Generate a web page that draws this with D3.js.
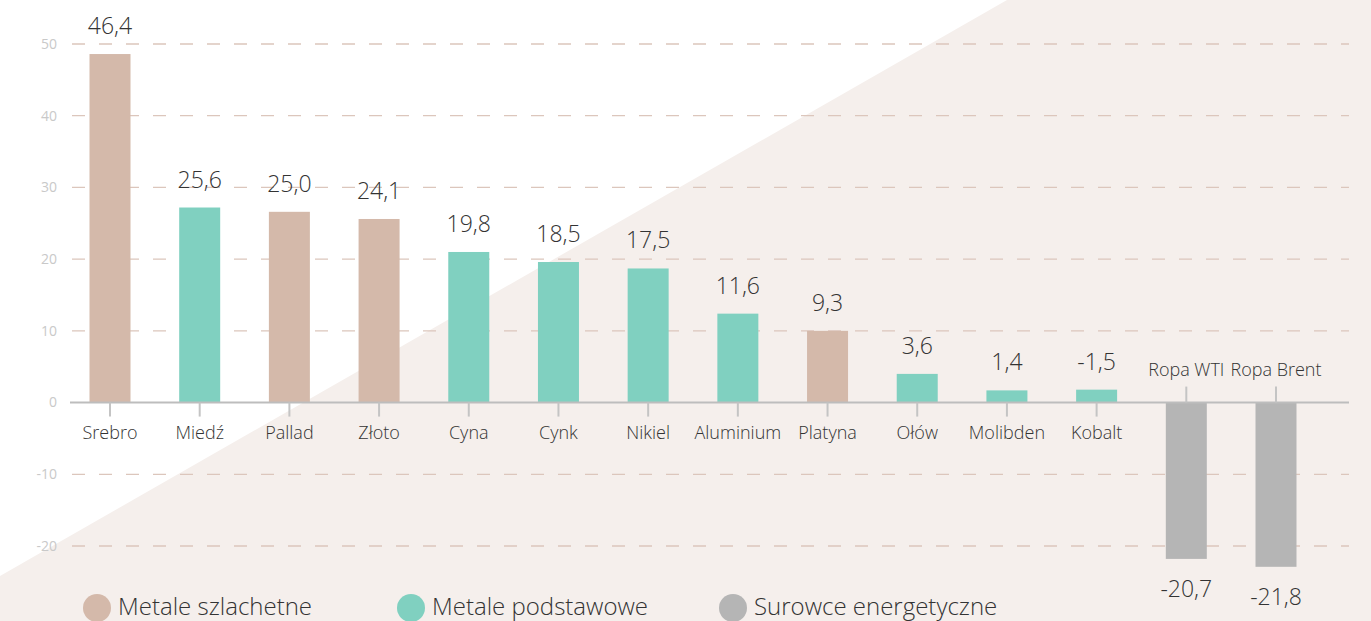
<!DOCTYPE html>
<html>
<head>
<meta charset="utf-8">
<script src="https://cdn.jsdelivr.net/npm/d3@7"></script>
<style>
  body { margin: 0; background: #fff; }
  svg { display: block; font-family: "Open Sans", sans-serif; }
</style>
</head>
<body>
<div id="chart"></div>
<script>
var width = 1371,
    height = 621;

// dane
var categories = ["Srebro", "Miedź", "Pallad", "Złoto", "Cyna", "Cynk", "Nikiel", "Aluminium", "Platyna", "Ołów", "Molibden", "Kobalt", "Ropa WTI", "Ropa Brent"];
var barValues = [48.6, 27.2, 26.6, 25.6, 21.0, 19.6, 18.7, 12.4, 10.0, 4.0, 1.7, 1.8, -21.8, -22.9];
var valueLabels = ["46,4", "25,6", "25,0", "24,1", "19,8", "18,5", "17,5", "11,6", "9,3", "3,6", "1,4", "-1,5", "-20,7", "-21,8"];
var groups = ["szl", "pod", "szl", "szl", "pod", "pod", "pod", "pod", "szl", "pod", "pod", "pod", "en", "en"];
var yTicks = [-20, -10, 0, 10, 20, 30, 40, 50];
var legendKeys = ["szl", "pod", "en"];
var legendNames = ["Metale szlachetne", "Metale podstawowe", "Surowce energetyczne"];

var colours = {
    szl: "#d4b9aa",
    pod: "#80d0c0",
    en: "#b5b5b5"
};

var data = categories.map(function(c, i) {
    return { name: c, value: barValues[i], label: valueLabels[i], group: groups[i] };
});

var svg = d3.select("#chart")
    .append("svg")
    .attr("width", width)
    .attr("height", height);

// tło - ukośny trójkąt
svg.append("path")
    .attr("d", "M1007,0 L" + width + ",0 L" + width + "," + height + " L0," + height + " L0,576 Z")
    .style("fill", "#f5efec");

var xScale = d3.scalePoint()
    .domain(categories)
    .range([110, 1276]);

var barWidth = 41;

var yScale = d3.scaleLinear()
    .domain([-20, 50])
    .range([546, 44]);

var gridLeft = 72, gridRight = 1349;

// linie siatki
svg.append("g")
    .selectAll("line")
    .data(yTicks.filter(function(t) { return t !== 0; }))
    .enter().append("line")
    .attr("x1", gridLeft)
    .attr("x2", gridRight)
    .attr("y1", function(d) { return yScale(d); })
    .attr("y2", function(d) { return yScale(d); })
    .style("stroke", "#dcc6bc")
    .style("stroke-width", 1.3)
    .style("stroke-dasharray", "13,14");

// etykiety osi Y
svg.append("g")
    .selectAll("text")
    .data(yTicks)
    .enter().append("text")
    .attr("x", 57)
    .attr("y", function(d) { return yScale(d); })
    .attr("dy", "0.35em")
    .style("text-anchor", "end")
    .style("font-size", "14px")
    .style("fill", "#c9c9c9")
    .text(function(d) { return d; });

// słupki
svg.append("g")
    .selectAll("rect")
    .data(data)
    .enter().append("rect")
    .attr("x", function(d) { return xScale(d.name) - barWidth / 2; })
    .attr("y", function(d) { return yScale(Math.max(0, d.value)); })
    .attr("width", barWidth)
    .attr("height", function(d) { return Math.abs(yScale(d.value) - yScale(0)); })
    .style("fill", function(d) { return colours[d.group]; });

// oś X
svg.append("line")
    .attr("x1", gridLeft - 2)
    .attr("x2", gridRight)
    .attr("y1", yScale(0))
    .attr("y2", yScale(0))
    .style("stroke", "#bdbdbd")
    .style("stroke-width", 2);

// znaczniki
svg.append("g")
    .selectAll("line")
    .data(data)
    .enter().append("line")
    .attr("x1", function(d) { return xScale(d.name); })
    .attr("x2", function(d) { return xScale(d.name); })
    .attr("y1", yScale(0))
    .attr("y2", function(d) { return d.group === "en" ? yScale(0) - 16 : yScale(0) + 14; })
    .style("stroke", "#c4c4c4")
    .style("stroke-width", 2);

// nazwy kategorii
svg.append("g")
    .selectAll("text")
    .data(data)
    .enter().append("text")
    .attr("x", function(d) { return xScale(d.name); })
    .attr("y", function(d) { return d.group === "en" ? yScale(0) - 27 : yScale(0) + 36; })
    .style("text-anchor", "middle")
    .style("font-size", "18px")
    .style("font-weight", 300)
    .style("fill", "#333")
    .text(function(d) { return d.name; });

// wartości
svg.append("g")
    .selectAll("text")
    .data(data)
    .enter().append("text")
    .attr("x", function(d) { return xScale(d.name); })
    .attr("y", function(d) {
        return d.value >= 0 ? yScale(d.value) - 20 : yScale(d.value) + 38;
    })
    .style("text-anchor", "middle")
    .style("font-size", "23px")
    .style("font-weight", 300)
    .style("fill", "#333")
    .text(function(d) { return d.label; });

// legenda
var legendX = [97, 411, 733];
var legend = svg.append("g")
    .selectAll("g")
    .data(legendKeys)
    .enter().append("g")
    .attr("transform", function(d, i) { return "translate(" + legendX[i] + ",608)"; });

legend.append("circle")
    .attr("r", 14)
    .style("fill", function(d) { return colours[d]; });

legend.append("text")
    .attr("x", 21)
    .attr("y", 7)
    .style("font-size", "24px")
    .style("font-weight", 300)
    .style("fill", "#333")
    .text(function(d, i) { return legendNames[i]; });
</script>
</body>
</html>
